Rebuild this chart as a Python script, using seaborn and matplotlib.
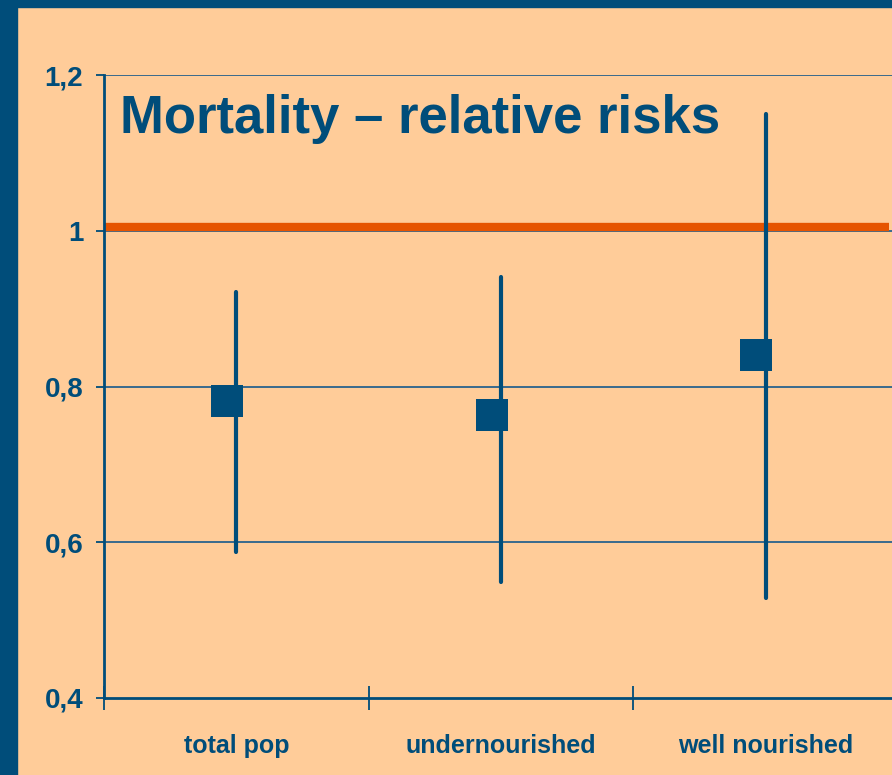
import numpy as np
import pandas as pd
import seaborn as sns
import matplotlib.pyplot as plt
from matplotlib.patches import Rectangle

groups = ["total pop", "undernourished", "well nourished"]
rr = [0.782, 0.763, 0.840]
ci_low = [0.588, 0.549, 0.528]
ci_high = [0.921, 0.941, 1.150]
ref_line = 1.005
yticks = [0.4, 0.6, 0.8, 1.0, 1.2]
ytick_labels = ["0,4", "0,6", "0,8", "1", "1,2"]

navy = "#004D7A"
peach = "#FFCC99"
orange = "#E65400"

sns.set_style("white")
plt.rcParams["font.family"] = ["Liberation Sans", "DejaVu Sans"]

df = pd.DataFrame({"group": groups, "rr": rr, "lo": ci_low, "hi": ci_high})
df["pos"] = np.arange(len(df))

fig = plt.figure(figsize=(8.92, 7.75), dpi=100)
fig.patch.set_facecolor(peach)
# dark frame on top and left
fig.patches.append(Rectangle((0, 0), 17 / 892, 1, transform=fig.transFigure, color=navy, zorder=0))
fig.patches.append(Rectangle((0, 1 - 7 / 775), 1, 7 / 775, transform=fig.transFigure, color=navy, zorder=0))

ax = fig.add_axes([104 / 892, 1 - 698 / 775, 794 / 892, 623 / 775])
ax.set_facecolor(peach)

# confidence intervals
ax.vlines(df["pos"], df["lo"], df["hi"], color=navy, lw=3, zorder=3, capstyle="round")
# point estimates, drawn slightly left of the interval line
sns.scatterplot(x=df["pos"] - 0.035, y=df["rr"], marker="s", s=500, color=navy,
                edgecolor=navy, linewidth=0, ax=ax, zorder=4, legend=False)

ax.set_xlim(-0.5, len(groups) - 0.5)
ax.set_ylim(0.4, 1.2)
ax.set_yticks(yticks)
ax.set_yticklabels(ytick_labels)
for y in yticks[1:]:
    ax.axhline(y, color="#2A628C", lw=1.3, zorder=1)
ax.axhline(ref_line, xmax=(889 - 104) / 794, color=orange, lw=6, zorder=2, solid_capstyle="butt")

ax.set_xticks(np.arange(len(groups) + 1) - 0.5)
ax.set_xticklabels([])
ax.set_xticks(np.arange(len(groups)), minor=True)
ax.set_xticklabels(groups, minor=True)
ax.tick_params(left=True, bottom=True)
ax.tick_params(axis="x", which="major", direction="inout", length=17, width=1.3, color=navy)
ax.tick_params(axis="x", which="minor", bottom=False, pad=24, labelsize=18, labelcolor=navy)
ax.tick_params(axis="y", direction="out", length=6, width=1.3, color=navy, pad=9,
               labelsize=20, labelcolor=navy)
for lab in ax.get_xticklabels(minor=True) + ax.get_yticklabels():
    lab.set_fontweight("bold")

for side in ["top", "right"]:
    ax.spines[side].set_visible(False)
for side in ["left", "bottom"]:
    ax.spines[side].set_color(navy)
    ax.spines[side].set_linewidth(2)
ax.set_xlabel("")
ax.set_ylabel("")

fig.text(120 / 892, 1 - 133 / 775, "Mortality \u2013 relative risks", fontsize=38,
         fontweight="bold", color=navy)

fig.savefig("out.png", dpi=100, facecolor=peach)
